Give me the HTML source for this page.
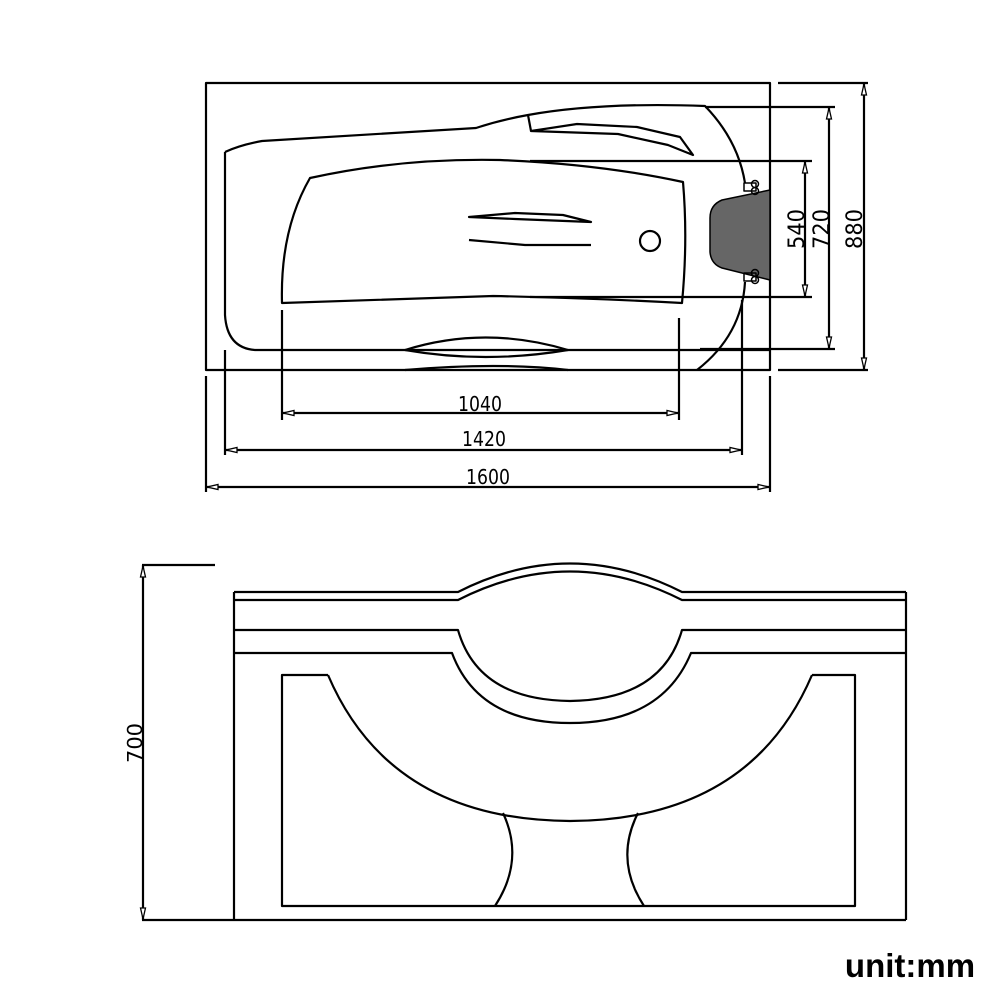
<!DOCTYPE html>
<html><head><meta charset="utf-8"><style>
html,body{margin:0;padding:0;background:#fff}
svg{display:block}
text{font-family:"DejaVu Sans","Liberation Sans",sans-serif;fill:#000}
</style></head><body>
<svg width="1000" height="1000" viewBox="0 0 1000 1000" xmlns="http://www.w3.org/2000/svg">
<g fill="none" stroke="#000" stroke-width="2.2" stroke-linejoin="round">
<rect x="206" y="83" width="564" height="287"/>
<path d="M225,152 Q240,145 262,141 L476,128 Q500,120 528,115 Q600,102 705,106 Q738,140 745,183"/>
<path d="M745,282 Q742,335 697,370"/>
<path d="M225,152 L225,315 Q227,348 255,350 L770,350"/>
<path d="M528,115 L531,131 L577,124 L637,127 L680,137 L693,155 L668,145 L618,134 L531,131"/>
<path d="M310,178 Q400,158 500,160 Q600,164 683,182 Q688,240 682,303 Q590,298 493,296 L282,303 Q280,230 310,178 Z"/>
<path d="M469,217 L515,213 L563,215 L591,222 L515,219 Z"/>
<path d="M469,240 L525,245 L591,245"/>
<circle cx="650" cy="241" r="10"/>
<path d="M405,350 Q485,325 568,350 Q485,364 405,350"/>
<path d="M405,370 Q500,362 568,370"/>
<path d="M770,190 L722,200 Q710,205 710,218 L710,252 Q711,264 722,268 L770,280 Z" fill="#666" stroke-width="1.5"/>
<g stroke-width="1.5"><rect x="744" y="183" width="12" height="8"/><circle cx="755" cy="184" r="3.5"/><circle cx="755" cy="191" r="3.5"/>
<rect x="744" y="273" width="12" height="8"/><circle cx="755" cy="273" r="3.5"/><circle cx="755" cy="280" r="3.5"/></g>
<path d="M778,83 H868 M778,370 H868 M705,107 H835 M700,349 H835 M530,161 H812 M530,297 H812"/>
<path d="M864,83 V370 M829,107 V349 M805,161 V297"/>
<path d="M206,376 V492 M770,376 V492 M225,350 V455 M742,300 V455 M282,310 V420 M679,318 V420"/>
<path d="M282,413 H679 M225,450 H742 M206,487 H770"/>
</g>
<g fill="#fff" stroke="#000" stroke-width="1.3">
<polygon points="283,413 294,410.5 294,415.5"/><polygon points="678,413 667,410.5 667,415.5"/>
<polygon points="226,450 237,447.5 237,452.5"/><polygon points="741,450 730,447.5 730,452.5"/>
<polygon points="207,487 218,484.5 218,489.5"/><polygon points="769,487 758,484.5 758,489.5"/>
<polygon points="864,84 861.5,95 866.5,95"/><polygon points="864,369 861.5,358 866.5,358"/>
<polygon points="829,108 826.5,119 831.5,119"/><polygon points="829,348 826.5,337 831.5,337"/>
<polygon points="805,162 802.5,173 807.5,173"/><polygon points="805,296 802.5,285 807.5,285"/>
</g>
<g font-size="20" text-anchor="middle">
<text x="480" y="411" textLength="44" lengthAdjust="spacingAndGlyphs">1040</text>
<text x="484" y="446" textLength="44" lengthAdjust="spacingAndGlyphs">1420</text>
<text x="488" y="484" textLength="44" lengthAdjust="spacingAndGlyphs">1600</text>
<text font-size="22" transform="translate(804,229) rotate(-90)" textLength="40" lengthAdjust="spacingAndGlyphs">540</text>
<text font-size="22" transform="translate(829,229) rotate(-90)" textLength="40" lengthAdjust="spacingAndGlyphs">720</text>
<text font-size="22" transform="translate(862,229) rotate(-90)" textLength="40" lengthAdjust="spacingAndGlyphs">880</text>
<text transform="translate(142,743) rotate(-90)" textLength="40" lengthAdjust="spacingAndGlyphs">700</text>
</g>
<g fill="none" stroke="#000" stroke-width="2.2" stroke-linejoin="round">
<path d="M234,592 V920 M906,592 V920 M142,920 H906 M143,565 V920 M142,565 H215"/>
<path d="M234,592 H458 Q570,535 682,592 H906"/>
<path d="M234,600 H458 Q570,543 682,600 H906"/>
<path d="M234,630 H458 Q478,700 570,701 Q662,700 682,630 H906"/>
<path d="M234,653 H452 Q478,723 570,723 Q662,723 691,653 H906"/>
<path d="M328,675 H282 V906 H855 V675 H812"/>
<path d="M328,675 Q390,820 570,821 Q750,820 812,675"/>
<path d="M503,813 Q525,860 495,906"/>
<path d="M638,813 Q614,860 644,906"/>
</g>
<g fill="#fff" stroke="#000" stroke-width="1.3">
<polygon points="143,566 140.5,577 145.5,577"/><polygon points="143,919 140.5,908 145.5,908"/>
</g>
<text x="910" y="977" font-size="33" font-weight="bold" text-anchor="middle" style="font-family:'Liberation Sans',sans-serif">unit:mm</text>
</svg>
</body></html>
